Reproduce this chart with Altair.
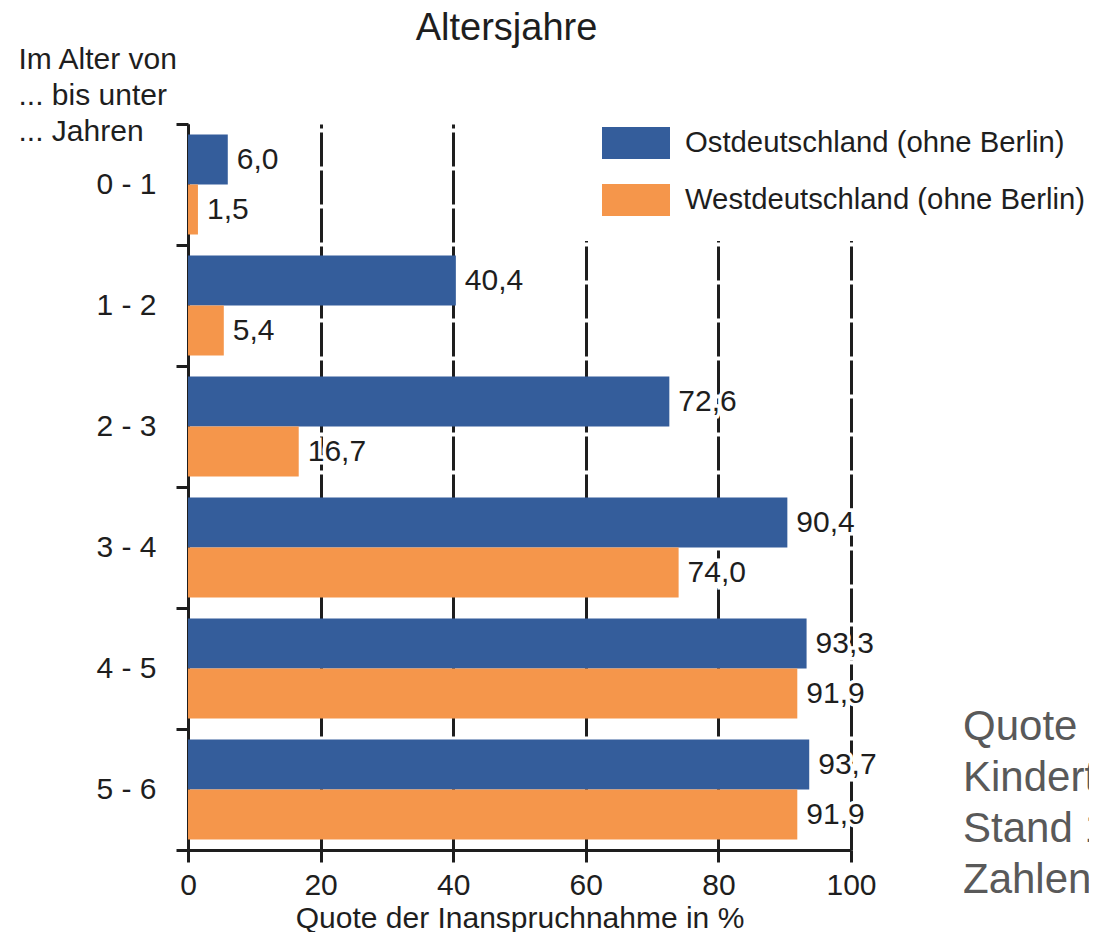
import altair as alt
import pandas as pd

# ---- data ----
categories = ["0 - 1", "1 - 2", "2 - 3", "3 - 4", "4 - 5", "5 - 6"]
regions = ["Ostdeutschland (ohne Berlin)", "Westdeutschland (ohne Berlin)"]
ost = [6.0, 40.4, 72.6, 90.4, 93.3, 93.7]
west = [1.5, 5.4, 16.7, 74.0, 91.9, 91.9]
x_ticks = [0, 20, 40, 60, 80, 100]
y_title = ["Im Alter von", "... bis unter", "... Jahren"]
note_lines = ["Quote der Inanspruchnahme von", "Kindertagesbetreuung,",
              "Stand 15.03.2007,", "Zahlenspiegel 2007"]

colors = ["#345d9b", "#f5964b"]
FONT = "Liberation Sans"
INK = "#1e1e1e"

rows = []
for cat, o, w in zip(categories, ost, west):
    for reg, v in zip(regions, (o, w)):
        rows.append({"Alter": cat, "Region": reg, "Quote": v,
                     "Label": f"{v:.1f}".replace(".", ",")})
df = pd.DataFrame(rows)
note_df = pd.DataFrame({"t": ["\n".join(note_lines)]})

y_enc = alt.Y(
    "Alter:N", sort=categories,
    scale=alt.Scale(paddingInner=0, paddingOuter=0),
    axis=alt.Axis(
        title=y_title, titleAngle=0, titleAlign="left", titleBaseline="top",
        titleX=-170, titleY=-80, titleLineHeight=36, titleFontSize=30,
        titleFontWeight="normal", titleFont=FONT, titleColor=INK,
        labelFontSize=30, labelFont=FONT, labelColor=INK, labelPadding=20,
        tickBand="extent", tickSize=12, tickWidth=3, tickColor=INK,
        domainColor=INK, domainWidth=3, grid=False,
    ),
)
yoff_enc = alt.YOffset("Region:N", sort=regions,
                       scale=alt.Scale(paddingInner=0, paddingOuter=0.21))
x_enc = alt.X(
    "Quote:Q", scale=alt.Scale(domain=[0, 100], nice=False),
    axis=alt.Axis(
        title="Quote der Inanspruchnahme in %", values=x_ticks, format="d",
        titleFontSize=30, titleFontWeight="normal", titleFont=FONT,
        titleColor=INK, titleBaseline="alphabetic", titleY=77,
        labelFontSize=30, labelFont=FONT, labelColor=INK, labelPadding=8,
        labelFlush=False,
        tickSize=12, tickWidth=3, tickColor=INK,
        domainColor=INK, domainWidth=3,
        grid=True, gridColor=INK, gridWidth=3, gridDash=[34, 4],
    ),
)

base = alt.Chart(df).encode(y=y_enc, yOffset=yoff_enc, x=x_enc)

bars = base.mark_bar().encode(
    color=alt.Color(
        "Region:N", sort=regions,
        scale=alt.Scale(domain=regions, range=colors),
        legend=alt.Legend(
            title=None, orient="none", legendX=389, legendY=-40,
            symbolType="M-1,-0.47H1V0.47H-1Z", symbolSize=4624,
            symbolStrokeWidth=0, symbolOpacity=1,
            labelFontSize=29.3, labelFont=FONT, labelColor=INK,
            labelOffset=15, labelLimit=600, rowPadding=7,
            padding=25, fillColor="white",
        ),
    )
)

halo = base.mark_text(
    align="left", baseline="middle", dx=9, fontSize=30, font=FONT,
    stroke="white", strokeWidth=7, fill="white",
).encode(text="Label:N")

labels = base.mark_text(
    align="left", baseline="middle", dx=9, fontSize=30, font=FONT, color=INK,
).encode(text="Label:N")

note = alt.Chart(note_df).mark_text(
    align="left", baseline="alphabetic", fontSize=42, font=FONT,
    color="#595959", lineBreak="\n", lineHeight=51,
).encode(text="t:N", x=alt.value(775), y=alt.value(616))

chart = (
    alt.layer(bars, halo, labels, note)
    .properties(
        width=663, height=726,
        autosize=alt.AutoSizeParams(type="none"),
        padding={"left": 180, "top": 116, "right": 238, "bottom": 82},
        title=alt.TitleParams(
            "Altersjahre", fontSize=38, fontWeight="normal", font=FONT,
            color=INK, anchor="middle", frame="group", dx=-13, dy=4, offset=0,
        ),
        background="white",
    )
    .configure_view(stroke=None)
)

chart.save("out.html", embed_options={"renderer": "svg", "actions": False})
